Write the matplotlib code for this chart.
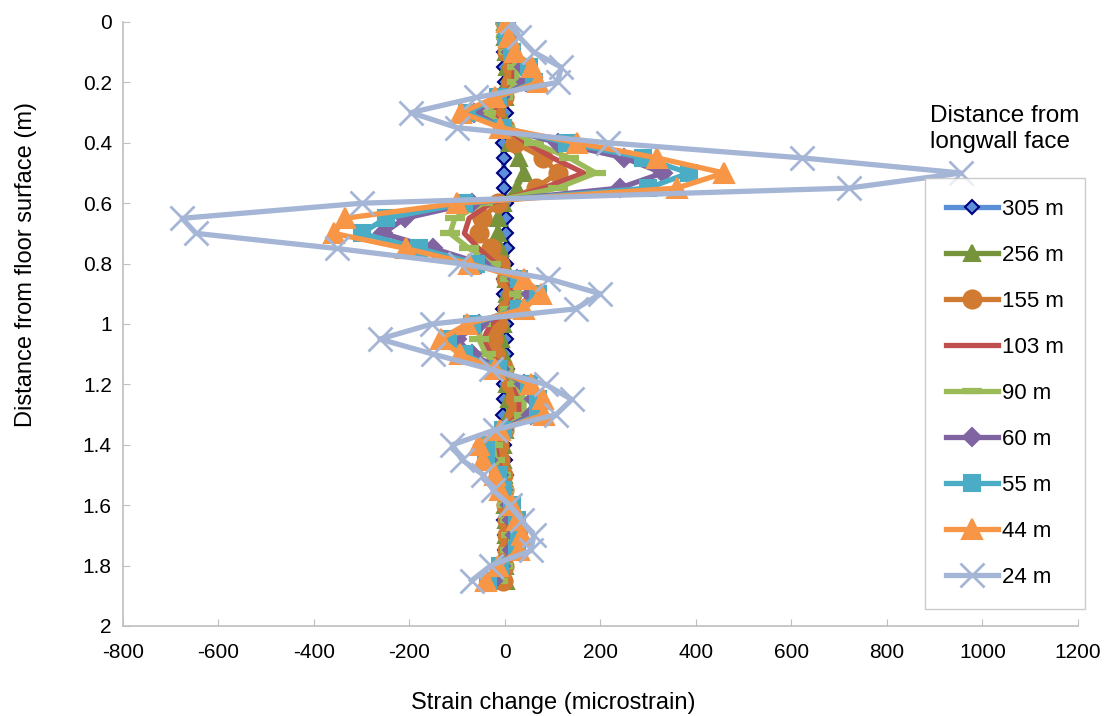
import matplotlib.pyplot as plt

plt.rcParams['font.family'] = ['Liberation Sans', 'DejaVu Sans']
plt.rcParams['axes.unicode_minus'] = False

###############################################################################
# data (strain change in microstrain at each depth)

depth = [0.00, 0.05, 0.10, 0.15, 0.20, 0.25, 0.30, 0.35, 0.40, 0.45,
         0.50, 0.55, 0.60, 0.65, 0.70, 0.75, 0.80, 0.85, 0.90, 0.95,
         1.00, 1.05, 1.10, 1.15, 1.20, 1.25, 1.30, 1.35, 1.40, 1.45,
         1.50, 1.55, 1.60, 1.65, 1.70, 1.75, 1.80, 1.85]

s305 = [0, -2, -3, -2, -1, 2, 3, 2, -5, -3, -2, -3, 3, 2, 3, 5, 2, -2, -3,
        -4, 3, 2, 3, 4, -3, -2, -4, -3, -2, 0, 2, 0, -1, -2, 0, 1, 0, -1]
s256 = [0, 0, 2, 5, 5, 0, -8, 0, 10, 30, 40, 25, -5, -15, -15, -10, -3, 2,
        5, 2, -5, -8, -5, 0, 5, 8, 8, 0, -5, -5, -2, 0, 0, 2, 3, 2, 0, 3]
s155 = [0, 2, 5, 15, 12, -2, -20, 0, 22, 80, 110, 65, -15, -48, -55, -30,
        -10, 3, 15, 5, -15, -25, -20, -3, 12, 20, 20, -3, -12, -10, -5, -2,
        2, 5, 5, 5, -2, -5]
s103 = [0, 2, 5, 20, 18, -3, -30, 0, 45, 100, 165, 80, -30, -75, -85, -55,
        -20, 5, 22, 8, -30, -45, -30, -5, 20, 30, 30, -5, -20, -15, -5, -2,
        3, 8, 10, 8, -3, -10]
s90 = [0, 3, 8, 25, 25, -5, -40, 0, 60, 135, 190, 110, -45, -105, -115, -75,
       -30, 10, 30, 10, -50, -55, -40, -5, 25, 40, 40, -5, -25, -20, -8, -3,
       5, 10, 12, 10, -5, -15]
s60 = [2, 5, 12, 40, 45, -10, -65, -5, 110, 250, 330, 240, -70, -210, -255,
       -150, -50, 25, 55, 25, -55, -100, -70, -10, 40, 60, 55, -5, -45, -35,
       -12, -5, 10, 15, 20, 15, -8, -25]
s55 = [2, 5, 15, 50, 60, -15, -80, -5, 130, 290, 385, 300, -85, -250, -300,
       -180, -60, 30, 70, 30, -70, -120, -85, -15, 50, 70, 70, -5, -40, -40,
       -15, -5, 15, 25, 30, 25, -10, -35]
s44 = [5, 8, 20, 57, 70, -20, -92, -10, 150, 318, 459, 360, -100, -335, -358,
       -208, -75, 40, 75, 40, -80, -135, -95, -20, 55, 80, 82, -10, -55, -45,
       -20, -10, 15, 25, 35, 30, -15, -40]
s24 = [15, 30, 60, 118, 110, -60, -197, -100, 215, 622, 955, 720, -299, -676,
       -647, -352, -95, 90, 200, 148, -153, -262, -150, -30, 85, 140, 107,
       -20, -110, -90, -45, -25, 10, 35, 60, 55, -30, -70]

labels = ['305 m', '256 m', '155 m', '103 m', '90 m', '60 m', '55 m',
          '44 m', '24 m']
series = [s305, s256, s155, s103, s90, s60, s55, s44, s24]

# line colour, marker, marker size, marker face, marker edge
styles = [('#5A8ED6', 'D', 7.5, '#5B8FD9', '#00007F'),
          ('#77933C', '^', 12, '#77933C', '#77933C'),
          ('#D07A32', 'o', 13, '#D07A32', '#D07A32'),
          ('#C0504D', None, 0, '#C0504D', '#C0504D'),
          ('#9BBB59', '_', 15, '#9BBB59', '#9BBB59'),
          ('#8064A2', 'D', 9, '#8064A2', '#8064A2'),
          ('#4BACC6', 's', 11, '#4BACC6', '#4BACC6'),
          ('#F79646', '^', 14, '#F79646', '#F79646'),
          ('#A5B5D5', 'x', 17, '#A5B5D5', '#A5B5D5')]

###############################################################################
# plot

fig = plt.figure(figsize=(11.15, 7.16), dpi=100)
ax = fig.add_axes([0.1103, 0.1257, 0.8565, 0.8436])

for vals, lab, (col, mk, ms, mfc, mec) in zip(series, labels, styles):
    mew = 1.5
    if mk == '_':
        mew = 4.5
    elif mk == 'x':
        mew = 2
    ax.plot(vals, depth, color=col, lw=3.8, marker=mk, ms=ms, mfc=mfc,
            mec=mec, mew=mew, label=lab)

ax.set_xlim(-800, 1200)
ax.set_ylim(2, 0)
ax.set_xticks(range(-800, 1201, 200))
ax.set_yticks([0, 0.2, 0.4, 0.6, 0.8, 1, 1.2, 1.4, 1.6, 1.8, 2])
ax.set_yticklabels(['0', '0.2', '0.4', '0.6', '0.8', '1', '1.2', '1.4',
                    '1.6', '1.8', '2'])

for side in ['top', 'right']:
    ax.spines[side].set_visible(False)
for side in ['left', 'bottom']:
    ax.spines[side].set_color('#BFBFBF')
    ax.spines[side].set_linewidth(1.2)
ax.tick_params(direction='in', length=5, color='#BFBFBF', labelsize=15)
ax.tick_params(axis='x', pad=12)
ax.tick_params(axis='y', pad=8)

# axis titles placed where the reference has them
fig.text(553 / 1115, 1 - 703 / 716, 'Strain change (microstrain)',
         fontsize=17, ha='center', va='center')
fig.text(26 / 1115, 1 - 265 / 716, 'Distance from floor surface (m)',
         fontsize=17, ha='center', va='center', rotation=90)

leg = fig.legend(loc='upper left', bbox_to_anchor=(925 / 1115, 1 - 178 / 716),
                 fontsize=16, frameon=True, fancybox=False, numpoints=1,
                 handlelength=2.35, handletextpad=0.15, labelspacing=1.125,
                 borderpad=0.95, borderaxespad=0)
leg.get_frame().set_edgecolor('#BFBFBF')
leg.get_frame().set_linewidth(1.0)

fig.text(930 / 1115, 1 - 129 / 716, 'Distance from\nlongwall face',
         fontsize=17.5, ha='left', va='center', linespacing=1.25)

fig.savefig('out.png', dpi=100)
